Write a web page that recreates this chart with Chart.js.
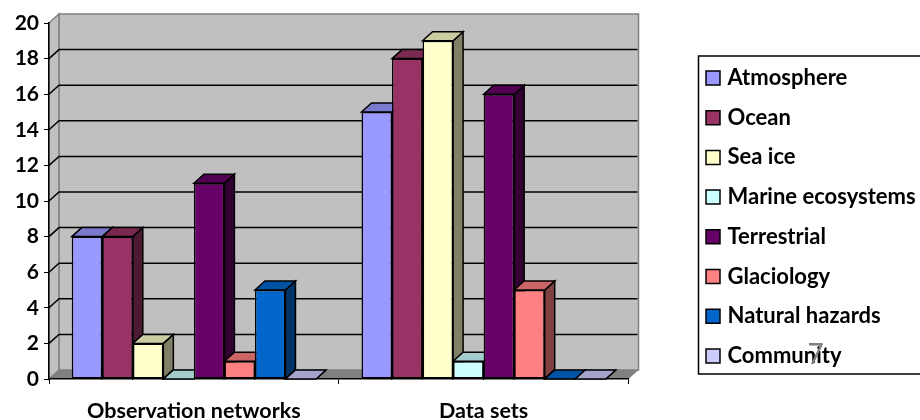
<!DOCTYPE html>
<html>
<head>
<meta charset="utf-8">
<title>Observation networks and data sets</title>
<script src="https://cdn.jsdelivr.net/npm/chart.js@4"></script>
<style>
  html, body { margin: 0; padding: 0; background: #ffffff; }
  canvas { display: block; }
</style>
</head>
<body>
<canvas id="themeChart" width="920" height="420"></canvas>
<script>
// ============================================================
// DATA
// ============================================================

const groupLabels = ["Observation networks", "Data sets"];

const atmosphere = [8, 15];
const ocean = [8, 18];
const seaIce = [2, 19];
const marineEcosystems = [0, 1];
const terrestrial = [11, 16];
const glaciology = [1, 5];
const naturalHazards = [5, 0];
const community = [0, 0];

const seriesNames = ["Atmosphere", "Ocean", "Sea ice", "Marine ecosystems", "Terrestrial", "Glaciology", "Natural hazards", "Community"];
const seriesValues = [atmosphere, ocean, seaIce, marineEcosystems, terrestrial, glaciology, naturalHazards, community];
const seriesColors = ["#9999FF", "#993366", "#FFFFCC", "#CCFFFF", "#660066", "#FF8080", "#0066CC", "#CCCCFF"];

// ============================================================
// 3D LOOK (box depth, walls, floor)
// ============================================================

const depthX = 10;
const depthY = 9;
const labelFont = "Lato, sans-serif";

function shade(hex, factor) {
  const n = parseInt(hex.slice(1), 16);
  const r = Math.round(((n >> 16) & 255) * factor);
  const g = Math.round(((n >> 8) & 255) * factor);
  const b = Math.round((n & 255) * factor);
  return "rgb(" + r + "," + g + "," + b + ")";
}

function polygon(ctx, points, fill, stroke, lineWidth) {
  ctx.beginPath();
  points.forEach(function(p, i) {
    if (i === 0) ctx.moveTo(p[0], p[1]);
    else ctx.lineTo(p[0], p[1]);
  });
  ctx.closePath();
  ctx.fillStyle = fill;
  ctx.fill();
  if (stroke) {
    ctx.strokeStyle = stroke;
    ctx.lineWidth = lineWidth;
    ctx.stroke();
  }
}

const wallsPlugin = {
  id: "walls",
  beforeDraw(chart) {
    const { ctx, chartArea: a, scales } = chart;
    const grey = "#C0C0C0";
    const edge = "#808080";

    ctx.save();
    // back wall, side wall, floor
    polygon(ctx, [[a.left + depthX, a.top - depthY], [a.right + depthX, a.top - depthY], [a.right + depthX, a.bottom - depthY], [a.left + depthX, a.bottom - depthY]], grey, edge, 1.5);
    polygon(ctx, [[a.left, a.top], [a.left + depthX, a.top - depthY], [a.left + depthX, a.bottom - depthY], [a.left, a.bottom]], grey, edge, 1.5);
    polygon(ctx, [[a.left, a.bottom], [a.left + depthX, a.bottom - depthY], [a.right + depthX, a.bottom - depthY], [a.right, a.bottom]], edge);

    // gridlines run along the side wall and across the back wall
    ctx.strokeStyle = "#000000";
    ctx.lineWidth = 1.5;
    scales.y.ticks.forEach(function(tick) {
      if (tick.value === 0 || tick.value === scales.y.max) return;
      const y = scales.y.getPixelForValue(tick.value);
      ctx.beginPath();
      ctx.moveTo(a.left, y);
      ctx.lineTo(a.left + depthX, y - depthY);
      ctx.lineTo(a.right + depthX - 1, y - depthY);
      ctx.stroke();
    });
    ctx.restore();
  },
  afterLayout(chart) {
    // legend sits away from the plot, inside its frame
    const legend = chart.legend;
    legend.left = 709.5 - legend.options.labels.padding;
    legend.right = 925;
    legend.top = 49.3;
  },
  beforeDatasetsDraw(chart) {
    const ctx = chart.ctx;
    ctx.save();
    ctx.lineJoin = "miter";
    // sides and tops go first, left to right, so every front covers its neighbour
    chart.data.datasets.forEach(function(ds, i) {
      chart.getDatasetMeta(i).data.forEach(function(bar) {
        const b = bar.getProps(["x", "y", "base", "width"], true);
        const left = b.x - b.width / 2;
        const right = b.x + b.width / 2;
        polygon(ctx, [[right, b.y], [right + depthX, b.y - depthY], [right + depthX, b.base - depthY], [right, b.base]], shade(ds.backgroundColor, 0.5), "#000000", 1.5);
        polygon(ctx, [[left, b.y], [left + depthX, b.y - depthY], [right + depthX, b.y - depthY], [right, b.y]], shade(ds.backgroundColor, 0.8), "#000000", 1.5);
      });
    });
    ctx.restore();
  },
  afterDraw(chart) {
    const ctx = chart.ctx;
    ctx.save();
    // legend frame, open towards the right edge
    ctx.strokeStyle = "#000000";
    ctx.lineWidth = 1.5;
    ctx.strokeRect(698.5, 56, 240, 318);
    // slide number over the legend
    ctx.fillStyle = "#808080";
    ctx.font = "28px " + labelFont;
    ctx.textAlign = "center";
    ctx.textBaseline = "middle";
    ctx.fillText("7", 815.5, 355);
    ctx.restore();
  }
};

// ============================================================
// CHART.JS
// ============================================================

const ctx = document.getElementById("themeChart").getContext("2d");

const themeChart = new Chart(ctx, {
  type: "bar",
  plugins: [wallsPlugin],
  data: {
    labels: groupLabels,
    datasets: seriesNames.map(function(name, i) {
      return {
        label: name,
        data: seriesValues[i],
        backgroundColor: seriesColors[i],
        borderColor: "#000000",
        borderWidth: 1.5,
        borderSkipped: false,
        categoryPercentage: 0.843,
        barPercentage: 1
      };
    })
  },
  options: {
    responsive: false,
    animation: false,
    layout: {
      padding: { top: 23, right: 82, bottom: 0, left: 0 }
    },
    plugins: {
      tooltip: { enabled: false },
      legend: {
        position: "right",
        align: "start",
        labels: {
          // rect point style: 14px swatch with a tighter gap before the text
          usePointStyle: true,
          pointStyle: "rect",
          boxWidth: 7,
          boxHeight: 14,
          padding: 17.7,
          color: "#000000",
          font: { family: labelFont, size: 22, weight: "bold", lineHeight: 1 }
        }
      }
    },
    scales: {
      x: {
        afterFit(scale) { scale.height = 41; },
        grid: { drawOnChartArea: false, color: "#000000", tickLength: 5 },
        border: { color: "#000000", width: 1.5 },
        ticks: {
          color: "#000000",
          padding: 14,
          maxRotation: 0,
          font: { family: labelFont, size: 21.5, weight: "bold" }
        }
      },
      y: {
        min: 0,
        max: 20,
        afterFit(scale) { scale.width = 49; },
        grid: { drawOnChartArea: false, color: "#000000", tickLength: 5 },
        border: { color: "#000000", width: 1.5 },
        ticks: {
          stepSize: 2,
          color: "#000000",
          padding: 5,
          font: { family: labelFont, size: 21, weight: "bold" }
        }
      }
    }
  }
});
</script>
</body>
</html>
